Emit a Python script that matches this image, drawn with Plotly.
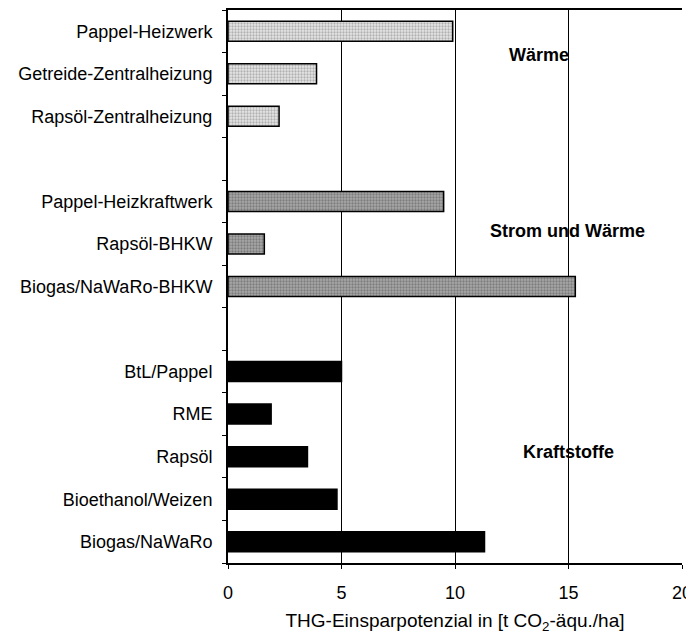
"""
THG-Einsparpotenzial verschiedener Bioenergiepfade
"""
import plotly.graph_objects as go

# Kategorien (von oben nach unten), Leerzeilen trennen die Gruppen
waerme_labels = ["Pappel-Heizwerk", "Getreide-Zentralheizung", "Rapsöl-Zentralheizung"]
waerme_values = [9.9, 3.9, 2.25]

strom_labels = ["Pappel-Heizkraftwerk", "Rapsöl-BHKW", "Biogas/NaWaRo-BHKW"]
strom_values = [9.5, 1.6, 15.3]

kraft_labels = ["BtL/Pappel", "RME", "Rapsöl", "Bioethanol/Weizen", "Biogas/NaWaRo"]
kraft_values = [5.0, 1.9, 3.5, 4.8, 11.3]

group_names = ["Wärme", "Strom und Wärme", "Kraftstoffe"]
x_ticks = [0, 5, 10, 15, 20]

spacer1 = " "
spacer2 = "  "
categories = waerme_labels + [spacer1] + strom_labels + [spacer2] + kraft_labels

FONT = "Liberation Sans, Arial, sans-serif"

fig = go.Figure()


def add_group(labels, values, bg, fg, shape):
    fig.add_trace(go.Bar(
        y=labels,
        x=values,
        orientation="h",
        width=0.47,
        marker=dict(
            color=bg,
            line=dict(color="black", width=1.5),
            pattern=dict(shape=shape, fgcolor=fg, bgcolor=bg, size=3, solidity=0.45),
        ),
        showlegend=False,
    ))


add_group(waerme_labels, waerme_values, "#e6e6e6", "#7a7a7a", ".")
add_group(strom_labels, strom_values, "#a8a8a8", "#505050", ".")
add_group(kraft_labels, kraft_values, "black", "black", "")

# Gruppenbeschriftungen
group_pos = [(0.685, 0.919), (0.748, 0.600), (0.750, 0.201)]
for name, (px_, py_) in zip(group_names, group_pos):
    fig.add_annotation(
        x=px_, y=py_, xref="paper", yref="paper",
        xanchor="center", yanchor="middle",
        text=f"<b>{name}</b>", showarrow=False,
        font=dict(family=FONT, size=18, color="black"),
    )

# die Seite hat 8px Rand, daher Breite/Höhe und Ränder entsprechend kleiner
fig.update_layout(
    width=686,
    height=628,
    margin=dict(l=220, r=12, t=2, b=73, autoexpand=False),
    plot_bgcolor="white",
    paper_bgcolor="white",
    font=dict(family=FONT, size=18, color="black"),
    bargap=0.5,
    xaxis=dict(
        range=[0, 20],
        tickvals=x_ticks,
        showgrid=True,
        gridcolor="black",
        gridwidth=1,
        showline=True,
        linecolor="black",
        linewidth=2,
        mirror=True,
        ticks="outside",
        ticklen=4,
        tickcolor="black",
        tickfont=dict(size=18),
        ticklabelstandoff=8,
        zeroline=False,
        automargin=False,
        title=dict(
            text="THG-Einsparpotenzial in [t CO<sub>2</sub>-äqu./ha]",
            font=dict(size=19),
            standoff=12,
        ),
    ),
    yaxis=dict(
        type="category",
        categoryorder="array",
        categoryarray=categories[::-1],
        showline=True,
        linecolor="black",
        linewidth=2,
        ticks="outside",
        tickson="boundaries",
        ticklen=4,
        tickcolor="black",
        tickfont=dict(size=18),
        ticklabelstandoff=10,
        showgrid=False,
        automargin=False,
    ),
)

fig.write_html("out.html")
